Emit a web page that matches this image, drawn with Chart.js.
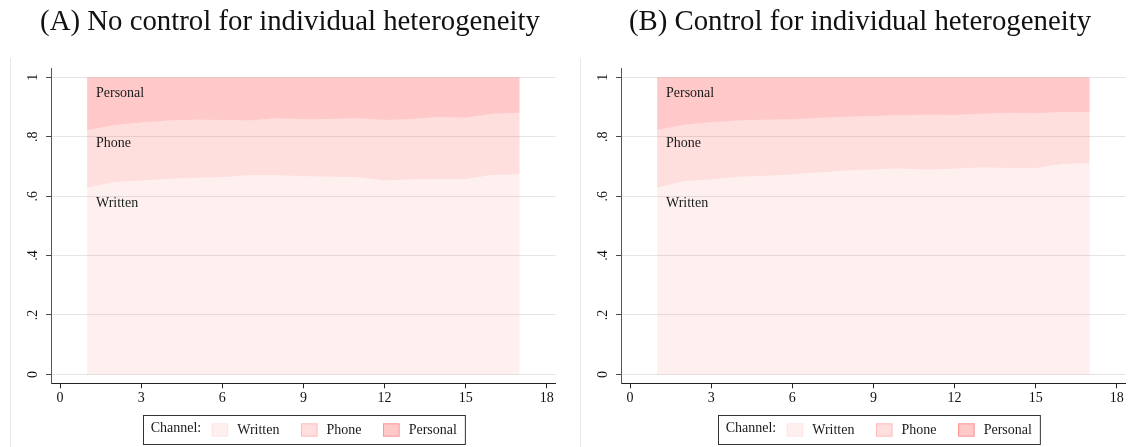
<!DOCTYPE html>
<html>
<head>
<meta charset="utf-8">
<script src="https://cdn.jsdelivr.net/npm/chart.js@4/dist/chart.umd.min.js"></script>
<style>
  html, body { margin: 0; padding: 0; background: #ffffff; }
  #wrap { position: relative; width: 1131px; height: 447px; overflow: hidden; }
  canvas { position: absolute; top: 0; }
</style>
</head>
<body>
<div id="wrap">
  <canvas id="panelA" width="565" height="447" style="left:0px"></canvas>
  <canvas id="panelB" width="561" height="447" style="left:570px"></canvas>
</div>
<script>
// Tenure (x) at which channel shares are observed
const months = [1, 2, 3, 4, 5, 6, 7, 8, 9, 10, 11, 12, 13, 14, 15, 16, 17];

// Panel A: no control for individual heterogeneity (shares of each channel)
const writtenA  = [0.628, 0.648, 0.652, 0.658, 0.662, 0.664, 0.670, 0.670, 0.667, 0.665, 0.664, 0.653, 0.656, 0.658, 0.658, 0.671, 0.674];
const phoneA    = [0.194, 0.191, 0.196, 0.197, 0.195, 0.192, 0.185, 0.192, 0.192, 0.195, 0.198, 0.203, 0.204, 0.208, 0.206, 0.206, 0.207];
const personalA = [0.178, 0.161, 0.152, 0.145, 0.143, 0.144, 0.145, 0.138, 0.141, 0.140, 0.138, 0.144, 0.140, 0.134, 0.136, 0.123, 0.119];

// Panel B: control for individual heterogeneity
const writtenB  = [0.628, 0.650, 0.656, 0.665, 0.668, 0.673, 0.680, 0.686, 0.690, 0.693, 0.689, 0.692, 0.696, 0.695, 0.694, 0.708, 0.711];
const phoneB    = [0.194, 0.190, 0.193, 0.190, 0.189, 0.186, 0.183, 0.181, 0.180, 0.179, 0.185, 0.181, 0.181, 0.186, 0.185, 0.175, 0.172];
const personalB = [0.178, 0.160, 0.151, 0.145, 0.143, 0.141, 0.137, 0.133, 0.130, 0.128, 0.126, 0.127, 0.123, 0.119, 0.121, 0.117, 0.117];

const channels = ['Written', 'Phone', 'Personal'];
const xTicks = [0, 3, 6, 9, 12, 15, 18];
const yTicks = [0, 0.2, 0.4, 0.6, 0.8, 1];
const yTickLabels = ['0', '.2', '.4', '.6', '.8', '1'];

// In-plot channel labels: [x, y] in data units
const areaLabelPos = { Written: [1.33, 0.576], Phone: [1.33, 0.778], Personal: [1.33, 0.946] };

const SERIF = '"Liberation Serif", "Times New Roman", serif';
const fillColors = ['rgba(255,0,0,0.06)', 'rgba(255,0,0,0.13)', 'rgba(255,0,0,0.21)'];
const swatchEdge = ['rgba(255,0,0,0.06)', 'rgba(255,0,0,0.16)', 'rgba(255,0,0,0.28)'];

// Titles, in-plot labels, legend box and the faint panel edge
const panelDecor = {
  id: 'panelDecor',
  afterDraw(chart, args, opts) {
    const ctx = chart.ctx;
    const xs = chart.scales.x, ys = chart.scales.y;
    ctx.save();

    // faint left edge of the panel region
    ctx.strokeStyle = '#e4ebee';
    ctx.lineWidth = 1;
    ctx.beginPath();
    ctx.moveTo(10.5, 58);
    ctx.lineTo(10.5, 447);
    ctx.stroke();

    // panel title
    ctx.fillStyle = '#111';
    ctx.font = '28.8px ' + SERIF;
    ctx.textAlign = 'center';
    ctx.textBaseline = 'alphabetic';
    ctx.fillText(opts.title, opts.titleX, 30);

    // channel labels inside the areas
    ctx.font = '14px ' + SERIF;
    ctx.textAlign = 'left';
    ctx.textBaseline = 'middle';
    ctx.fillStyle = '#1a1a1a';
    chart.data.datasets.forEach(ds => {
      const p = areaLabelPos[ds.label];
      ctx.fillText(ds.label, xs.getPixelForValue(p[0]), ys.getPixelForValue(p[1]));
    });

    // legend
    ctx.textBaseline = 'alphabetic';
    const head = 'Channel:';
    const headW = ctx.measureText(head).width;
    const sw = 16.6, sh = 13.4, gapSwText = 9, gapItems = 21.5;
    const widths = chart.data.datasets.map(ds => ctx.measureText(ds.label).width);
    let total = 7.7 + headW + 10.4;
    widths.forEach((w, i) => { total += sw + gapSwText + w + (i < widths.length - 1 ? gapItems : 0); });
    total += 8;
    const left = Math.round(opts.legendCenter - total / 2);
    const top = 415, h = 29;
    ctx.strokeStyle = '#333';
    ctx.lineWidth = 1;
    ctx.strokeRect(left + 0.5, top + 0.5, total, h);
    ctx.fillStyle = '#1a1a1a';
    ctx.fillText(head, left + 7.7, 431.7);
    let cx = left + 7.7 + headW + 10.4;
    chart.data.datasets.forEach((ds, i) => {
      ctx.fillStyle = '#ffffff';
      ctx.fillRect(cx, 423.3, sw, sh);
      ctx.fillStyle = ds.backgroundColor;
      ctx.fillRect(cx, 423.3, sw, sh);
      ctx.strokeStyle = swatchEdge[i];
      ctx.strokeRect(cx + 0.5, 423.8, sw - 1, sh - 1);
      cx += sw + gapSwText;
      ctx.fillStyle = '#1a1a1a';
      ctx.fillText(ds.label, cx, 434);
      cx += widths[i] + gapItems;
    });
    ctx.restore();
  }
};

function buildPanel(canvasId, title, titleX, legendCenter, written, phone, personal) {
  const canvas = document.getElementById(canvasId);
  const W = canvas.width;
  const series = [written, phone, personal];
  const datasets = channels.map((name, i) => ({
    label: name,
    data: months.map((m, j) => ({ x: m, y: series[i][j] })),
    backgroundColor: fillColors[i],
    borderWidth: 0,
    pointRadius: 0,
    tension: 0,
    fill: i === 0 ? 'origin' : '-1'
  }));
  return new Chart(canvas, {
    type: 'line',
    data: { datasets },
    options: {
      responsive: false,
      animation: false,
      devicePixelRatio: 1,
      layout: { padding: { left: 10, right: W - 555.7, top: 68.4, bottom: 33.7 } },
      plugins: {
        legend: { display: false },
        tooltip: { enabled: false },
        panelDecor: { title, titleX, legendCenter }
      },
      scales: {
        x: {
          type: 'linear',
          min: -0.33,
          max: 18.33,
          afterBuildTicks: s => { s.ticks = xTicks.map(v => ({ value: v })); },
          afterFit: s => { s.height = 30; },
          grid: { drawOnChartArea: false, drawTicks: true, tickLength: 5, tickColor: '#222', tickWidth: 1 },
          border: { color: '#222', width: 1 },
          ticks: { font: { family: SERIF, size: 14 }, color: '#111', padding: 2, maxRotation: 0, minRotation: 0,
                   callback: v => String(v) }
        },
        y: {
          type: 'linear',
          stacked: true,
          min: -0.03,
          max: 1.03,
          afterBuildTicks: s => { s.ticks = yTicks.map(v => ({ value: v })); },
          afterFit: s => { s.width = 41.1; },
          grid: { color: 'rgba(0,0,0,0.1)', lineWidth: 1, drawTicks: true, tickLength: 5, tickColor: '#444', tickWidth: 1 },
          border: { color: '#555', width: 1 },
          ticks: { font: { family: SERIF, size: 14 }, color: '#111', padding: 8, minRotation: 90, maxRotation: 90,
                   crossAlign: 'center',
                   callback: v => yTickLabels[yTicks.findIndex(t => Math.abs(t - v) < 1e-9)] }
        }
      }
    },
    plugins: [panelDecor]
  });
}

buildPanel('panelA', '(A) No control for individual heterogeneity', 290, 304, writtenA, phoneA, personalA);
buildPanel('panelB', '(B) Control for individual heterogeneity', 290, 309, writtenB, phoneB, personalB);
</script>
</body>
</html>
